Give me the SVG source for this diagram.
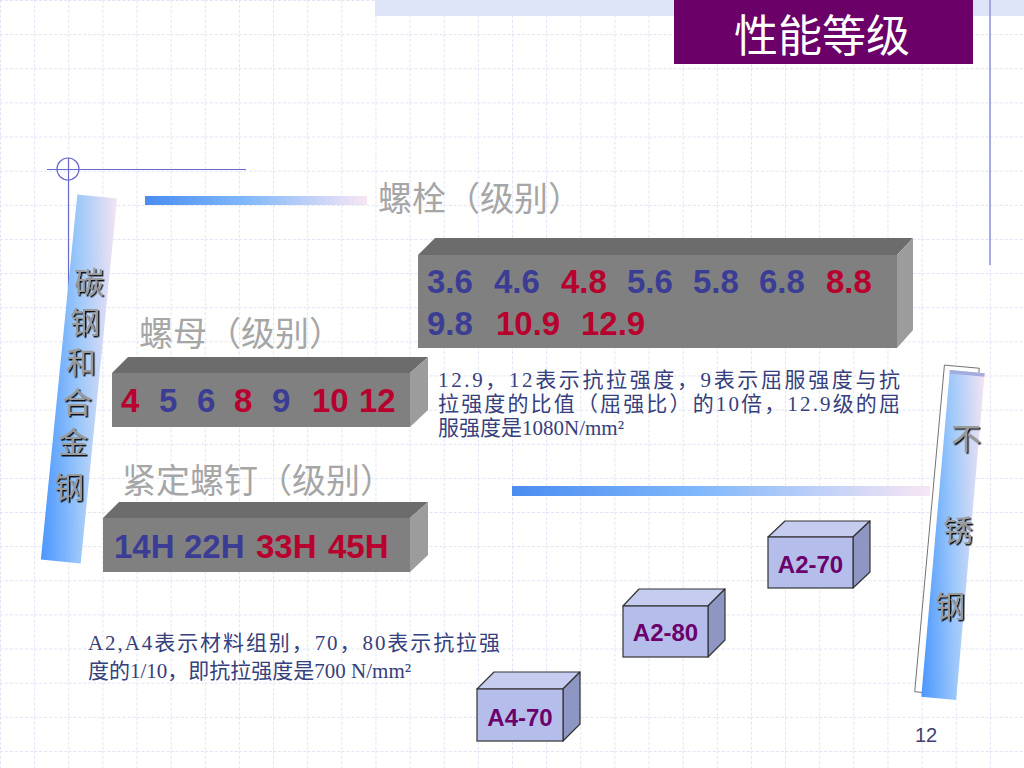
<svg xmlns="http://www.w3.org/2000/svg" width="1024" height="768" viewBox="0 0 1024 768">
<style>
.cjk{font-family:"Noto Sans CJK SC","Noto Sans CJK TC",sans-serif}
.lbl{font-family:"Noto Sans CJK SC",sans-serif;font-size:34px;fill:#a6a6a6}
.num{font-family:"Liberation Sans",Arial,sans-serif;font-weight:bold;font-size:33px}
.b{fill:#3b3d95}
.r{fill:#b8002e}
.note{font-family:"Liberation Serif","Noto Sans CJK SC",serif;font-size:21px;fill:#36407c}
.bar{font-family:"Noto Sans CJK SC",sans-serif;font-size:30px;fill:#9a9a9a;text-anchor:middle;filter:url(#emb)}
.gf{fill:#808080}.gt{fill:#6c6c6c}.gr{fill:#9c9c9c}
.af{fill:#b5bdea;stroke:#333;stroke-width:1.2}
.at{fill:#c6ccf0;stroke:#333;stroke-width:1.2;stroke-linejoin:round}
.ar{fill:#8e97c4;stroke:#333;stroke-width:1.2;stroke-linejoin:round}
.atx{font-family:"Liberation Sans",Arial,sans-serif;font-weight:bold;font-size:24px;fill:#6b006b;text-anchor:middle}
.orn{stroke:#6a6acc;stroke-width:1.2;fill:none}
</style>
<defs>
<pattern id="grid" patternUnits="userSpaceOnUse" width="34.1333" height="34.1333">
<path d="M0 0.5H34.1333M0.5 0V34.1333" stroke="#e0e2f5" stroke-width="1" stroke-dasharray="3,2" fill="none"/>
</pattern>
<linearGradient id="hbar" x1="0" y1="0" x2="1" y2="0">
<stop offset="0" stop-color="#4a8cf0"/>
<stop offset="0.45" stop-color="#80b8fb"/>
<stop offset="1" stop-color="#f8e6f4"/>
</linearGradient>
<linearGradient id="vbar" x1="0" y1="1" x2="1" y2="0">
<stop offset="0" stop-color="#4a96ff"/>
<stop offset="0.5" stop-color="#9cc8fa"/>
<stop offset="1" stop-color="#f4e4f2"/>
</linearGradient>
<filter id="emb" x="-20%" y="-20%" width="150%" height="150%">
<feDropShadow dx="1.5" dy="1.5" stdDeviation="0.6" flood-color="#000" flood-opacity="0.9"/>
</filter>
</defs>

<rect width="1024" height="768" fill="#ffffff"/>
<rect width="1024" height="768" fill="url(#grid)"/>

<g id="decor">
<rect x="375" y="0" width="649" height="16" fill="#dfe5f9"/>
<line x1="990" y1="0" x2="990" y2="265" stroke="#9090dc" stroke-width="1.5"/>
<line class="orn" x1="47" y1="169.5" x2="246" y2="169.5"/>
<line class="orn" x1="68.5" y1="158" x2="68.5" y2="560"/>
<circle class="orn" cx="68" cy="169" r="11"/>
<rect x="145" y="196" width="222" height="9" fill="url(#hbar)"/>
<rect x="512" y="486" width="418" height="10" fill="url(#hbar)"/>
</g>

<g id="title">
<rect x="674" y="0" width="299" height="64" fill="#6a0068"/>
<text class="cjk" x="822" y="52" font-size="44" fill="#ffffff" text-anchor="middle">性能等级</text>
</g>

<g id="carbon-steel">
<rect x="-20" y="-183.5" width="40" height="367" fill="url(#vbar)" transform="translate(79,379) rotate(5.7)"/>
<text class="bar"><tspan x="89" y="293">碳</tspan><tspan x="85" y="333">钢</tspan><tspan x="81" y="373">和</tspan><tspan x="77" y="413">合</tspan><tspan x="73" y="453">金</tspan><tspan x="69" y="498">钢</tspan></text>
</g>

<g id="stainless-steel">
<rect x="-17.5" y="-164" width="35" height="328" fill="#ffffff" stroke="#555" stroke-width="0.8" transform="translate(947,530) rotate(5.2)"/>
<rect x="-17.5" y="-164" width="35" height="328" fill="url(#vbar)" transform="translate(953,535) rotate(5)"/>
<rect x="-17.5" y="-164" width="35" height="3.5" fill="#a4acdc" transform="translate(953,535) rotate(5)"/>
<text class="bar"><tspan x="966" y="449">不</tspan><tspan x="958" y="541">锈</tspan><tspan x="950" y="617">钢</tspan></text>
</g>

<g id="bolt-label"><text class="lbl" x="378" y="211">螺栓（级别）</text></g>
<g id="nut-label"><text class="lbl" x="139" y="346">螺母（级别）</text></g>
<g id="screw-label"><text class="lbl" x="122" y="493">紧定螺钉（级别）</text></g>

<g id="bolt-box">
<rect class="gf" x="418" y="255" width="479" height="93"/>
<polygon class="gt" points="418,255 435,238 913,238 897,255"/>
<polygon class="gr" points="897,255 913,238 913,330 897,348"/>
<text class="num" y="293"><tspan class="b" x="427">3.6</tspan><tspan class="b" x="494">4.6</tspan><tspan class="r" x="561">4.8</tspan><tspan class="b" x="627">5.6</tspan><tspan class="b" x="693">5.8</tspan><tspan class="b" x="759">6.8</tspan><tspan class="r" x="826">8.8</tspan></text>
<text class="num" y="335"><tspan class="b" x="427">9.8</tspan><tspan class="r" x="496">10.9</tspan><tspan class="r" x="581">12.9</tspan></text>
</g>

<g id="nut-box">
<rect class="gf" x="112" y="373" width="298" height="54"/>
<polygon class="gt" points="112,373 128,357 428,357 410,373"/>
<polygon class="gr" points="410,373 428,357 428,410 410,427"/>
<text class="num" y="412"><tspan class="r" x="121">4</tspan><tspan class="b" x="159">5</tspan><tspan class="b" x="197">6</tspan><tspan class="r" x="234">8</tspan><tspan class="b" x="272">9</tspan><tspan class="r" x="312">10</tspan><tspan class="r" x="359">12</tspan></text>
</g>

<g id="screw-box">
<rect class="gf" x="103" y="518" width="307" height="54"/>
<polygon class="gt" points="103,518 119,502 428,502 410,518"/>
<polygon class="gr" points="410,518 428,502 428,555 410,572"/>
<text class="num" y="558"><tspan class="b" x="114">14H</tspan><tspan class="b" x="184">22H</tspan><tspan class="r" x="256">33H</tspan><tspan class="r" x="328">45H</tspan></text>
</g>

<g id="note-bolt">
<text class="note" x="438" y="387" textLength="462" lengthAdjust="spacing">12.9，12表示抗拉强度，9表示屈服强度与抗</text>
<text class="note" x="438" y="411" textLength="462" lengthAdjust="spacing">拉强度的比值（屈强比）的10倍，12.9级的屈</text>
<text class="note" x="438" y="435">服强度是1080N/mm²</text>
</g>

<g id="note-stainless">
<text class="note" x="88" y="650" textLength="412" lengthAdjust="spacing">A2,A4表示材料组别，70，80表示抗拉强</text>
<text class="note" x="88" y="678">度的1/10，即抗拉强度是700 N/mm²</text>
</g>

<g id="a2-70">
<polygon class="at" points="768,537 785,521 870,521 853,537"/>
<polygon class="ar" points="853,537 870,521 870,572 853,588"/>
<rect class="af" x="768" y="537" width="85" height="51"/>
<text class="atx" x="810.5" y="573">A2-70</text>
</g>

<g id="a2-80">
<polygon class="at" points="623,606 639,589 725,589 708,606"/>
<polygon class="ar" points="708,606 725,589 725,640 708,657"/>
<rect class="af" x="623" y="606" width="85" height="51"/>
<text class="atx" x="665.5" y="641">A2-80</text>
</g>

<g id="a4-70">
<polygon class="at" points="477,689 494,672 580,672 563,689"/>
<polygon class="ar" points="563,689 580,672 580,724 563,741"/>
<rect class="af" x="477" y="689" width="86" height="52"/>
<text class="atx" x="520" y="726">A4-70</text>
</g>

<g id="connectors"></g>

<g id="page-number"><text x="915" y="742" font-family="Liberation Sans, Arial, sans-serif" font-size="20" fill="#404070">12</text></g>
</svg>
